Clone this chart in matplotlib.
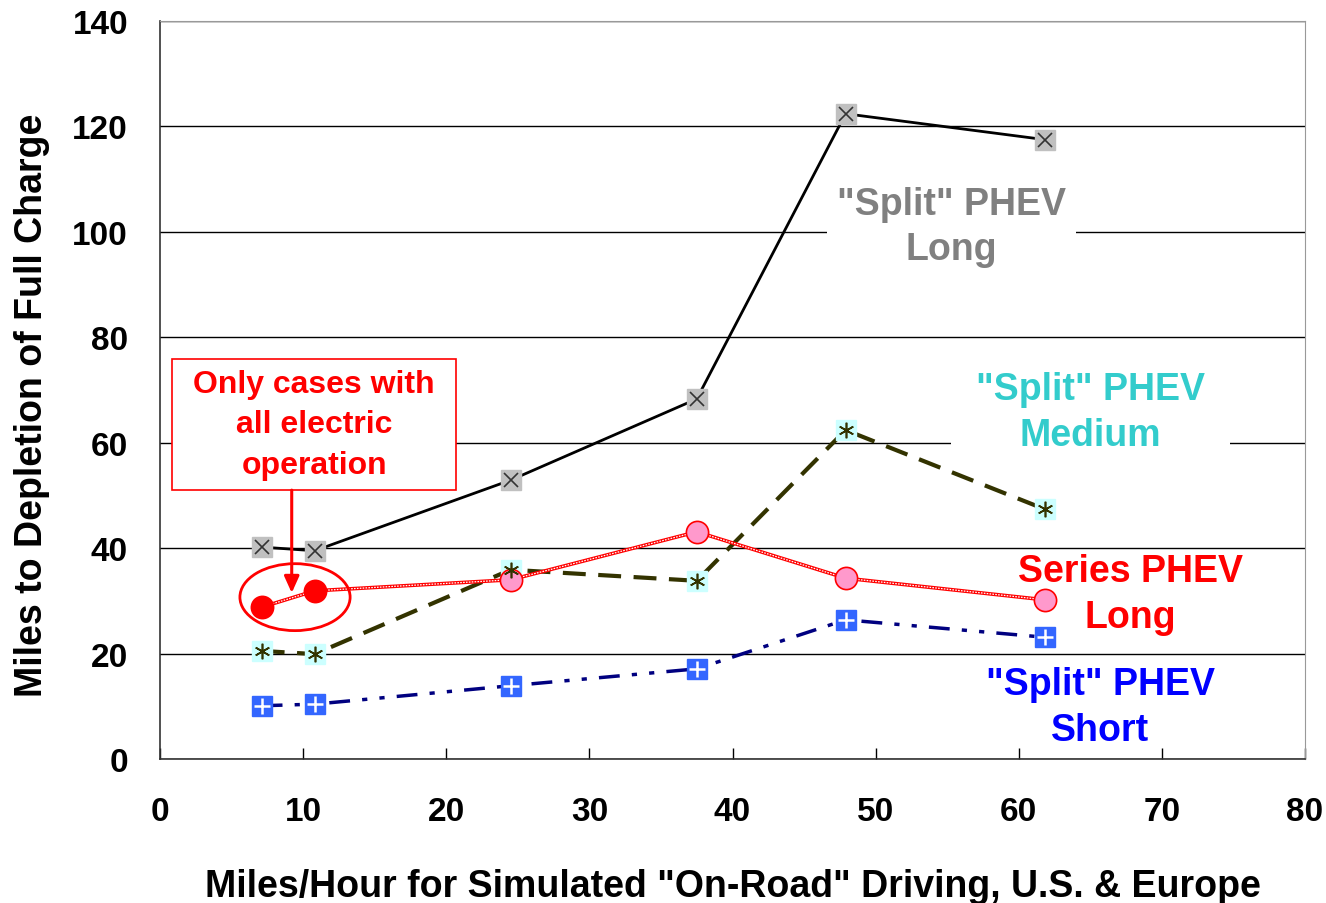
import matplotlib
matplotlib.use("Agg")
import matplotlib.pyplot as plt
from matplotlib.patches import Ellipse, Rectangle

plt.rcParams['font.family'] = ['Liberation Sans', 'DejaVu Sans']
plt.rcParams['font.weight'] = 'bold'
plt.rcParams['axes.labelweight'] = 'bold'

speed = [7.1, 10.8, 24.5, 37.5, 47.9, 61.8]
split_long = [40.2, 39.5, 52.9, 68.3, 122.4, 117.5]
split_medium = [20.5, 19.9, 35.9, 33.8, 62.4, 47.4]
series_long = [28.8, 31.9, 34.0, 43.1, 34.3, 30.2]
split_short = [10.1, 10.4, 13.9, 17.1, 26.4, 23.1]

xticks = [0, 10, 20, 30, 40, 50, 60, 70, 80]
yticks = [0, 20, 40, 60, 80, 100, 120, 140]

fig = plt.figure(figsize=(13.26, 9.04), dpi=100)
ax = fig.add_axes([0.1207, 0.1593, 0.8635, 0.8164])
ax.set_xlim(0, 80)
ax.set_ylim(0, 140)
ax.set_xticks(xticks)
ax.set_yticks(yticks)
ax.yaxis.grid(True, color='black', linewidth=1.0)
ax.set_axisbelow(True)
ax.tick_params(axis='x', direction='in', length=8, width=1, pad=27, labelsize=24)
ax.tick_params(axis='y', direction='in', length=0, pad=23, labelsize=24)
for s in ['top', 'right']:
    ax.spines[s].set_color('#999999')
for s in ['left', 'bottom']:
    ax.spines[s].set_color('#333333')
    ax.spines[s].set_linewidth(1.2)

ms = 14
# Split Long
ax.plot(speed, split_long, color='black', lw=2, zorder=3)
ax.plot(speed, split_long, ls='none', marker='s', ms=ms, mfc='#C0C0C0', mec='#C0C0C0', zorder=4)
ax.plot(speed, split_long, ls='none', marker='x', ms=ms * 0.75, mec='#333333', mew=1.2, zorder=5)

# Split Medium
ax.plot(speed, split_medium, color='#333300', lw=3, dashes=(5.5, 3), zorder=3)
ax.plot(speed, split_medium, ls='none', marker='s', ms=ms, mfc='#CCFFFF', mec='#CCFFFF', zorder=4)
ax.plot(speed, split_medium, ls='none', marker=(6, 2, 0), ms=ms * 0.8, mec='#333300', mew=1.2, zorder=5)

# Split Short
ax.plot(speed, split_short, color='#000080', lw=2.5, dashes=(6, 3.5, 1.5, 3.5, 1.5, 3.5), zorder=3)
ax.plot(speed, split_short, ls='none', marker='s', ms=ms, mfc='#3366FF', mec='#3366FF', zorder=4)
ax.plot(speed, split_short, ls='none', marker='+', ms=ms * 0.8, mec='white', mew=1.8, zorder=5)

# Series Long
ax.plot(speed, series_long, color='red', lw=2.6, zorder=3)
ax.plot(speed, series_long, color='white', lw=0.9, dashes=(1.3, 1.0), zorder=3.1)
ax.plot(speed[2:], series_long[2:], ls='none', marker='o', ms=16, mfc='#FF99CC', mec='red', mew=1.2, zorder=4)
ax.plot(speed[:2], series_long[:2], ls='none', marker='o', ms=16, mfc='red', mec='red', mew=1.2, zorder=4)

lab_fs = 27
ax.text(55.3, 101, '"Split" PHEV\nLong', color='#808080', fontsize=lab_fs, ha='center', va='center',
        linespacing=1.35, bbox=dict(facecolor='white', edgecolor='none', pad=7), zorder=2)
ax.text(65.0, 65.8, '"Split" PHEV\nMedium', color='#33CCCC', fontsize=lab_fs, ha='center', va='center',
        linespacing=1.35, bbox=dict(facecolor='white', edgecolor='none', pad=18), zorder=2)
ax.text(67.8, 31.3, 'Series PHEV\nLong', color='red', fontsize=lab_fs, ha='center', va='center',
        linespacing=1.35, zorder=2)
ax.text(65.7, 9.9, '"Split" PHEV\nShort', color='#0000FF', fontsize=lab_fs, ha='center', va='center',
        linespacing=1.35, zorder=2)

# annotation
ax.add_patch(Rectangle((0.84, 51.0), 19.86, 24.9, facecolor='white', edgecolor='red', lw=1.2, zorder=2.5))
ax.text(10.77, 63.5, 'Only cases with\nall electric\noperation', color='red', fontsize=23,
        ha='center', va='center', linespacing=1.45, zorder=2.6)
ax.annotate('', xy=(9.2, 31.5), xytext=(9.2, 51.0),
            arrowprops=dict(arrowstyle='-|>,head_width=0.45,head_length=1.0', color='red', lw=2.2,
                            shrinkA=0, shrinkB=0), zorder=6)
ax.add_patch(Ellipse((9.43, 30.7), 7.7, 12.7, facecolor='none', edgecolor='red', lw=2, zorder=6))

ax.set_xlabel('Miles/Hour for Simulated "On-Road" Driving, U.S. & Europe', fontsize=27, labelpad=29)
ax.set_ylabel('Miles to Depletion of Full Charge', fontsize=27)
ax.yaxis.label.set_va('center')
ax.yaxis.set_label_coords(-0.1118, 0.48)

fig.savefig('out.png', dpi=100)
